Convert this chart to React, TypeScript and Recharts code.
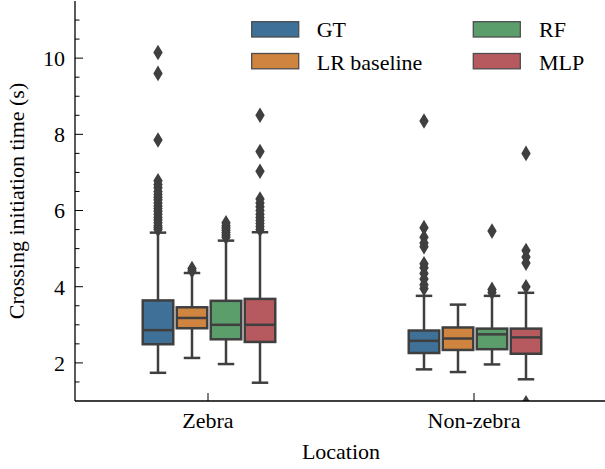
import React from 'react';
import { ComposedChart, Bar, XAxis, YAxis, Legend } from 'recharts';

const locations = ['Zebra', 'Non-zebra'];
const methods = ['GT', 'LR baseline', 'RF', 'MLP'];
const methodColors = ['#3E7098', '#CF8540', '#5B9E6C', '#B65A5F'];

// [lower whisker, Q1, median, Q3, upper whisker], one row per location (Zebra, Non-zebra)
const boxGT = [
  [1.74, 2.49, 2.86, 3.64, 5.42],
  [1.83, 2.26, 2.58, 2.85, 3.76],
];
const boxLR = [
  [2.13, 2.91, 3.18, 3.46, 4.36],
  [1.76, 2.34, 2.64, 2.93, 3.53],
];
const boxRF = [
  [1.97, 2.62, 3.0, 3.63, 5.21],
  [1.96, 2.36, 2.75, 2.9, 3.76],
];
const boxMLP = [
  [1.48, 2.55, 3.0, 3.68, 5.43],
  [1.57, 2.24, 2.67, 2.9, 3.84],
];

// outliers, one list per location (Zebra, Non-zebra)
const fliersGT = [
  [5.5, 5.55, 5.6, 5.68, 5.75, 5.82, 5.9, 5.98, 6.05, 6.12, 6.2, 6.28, 6.35, 6.42, 6.5, 6.6, 6.68, 6.78, 7.85, 9.6, 10.15],
  [3.95, 4.05, 4.2, 4.35, 4.5, 4.6, 5.05, 5.15, 5.3, 5.55, 8.35],
];
const fliersLR = [[4.42, 4.48], []];
const fliersRF = [
  [5.3, 5.36, 5.42, 5.48, 5.54, 5.6, 5.68],
  [3.85, 3.93, 5.46],
];
const fliersMLP = [
  [5.5, 5.58, 5.66, 5.74, 5.82, 5.9, 6.0, 6.1, 6.2, 6.3, 7.03, 7.55, 8.5],
  [0.95, 4.0, 4.62, 4.78, 4.95, 7.5],
];

const yDomain = [1, 11.5];
const yTicks = [1.5, 2, 2.5, 3, 3.5, 4, 4.5, 5, 5.5, 6, 6.5, 7, 7.5, 8, 8.5, 9, 9.5, 10, 10.5, 11];
const yMajorTicks = [2, 4, 6, 8, 10];

const allBoxes = [boxGT, boxLR, boxRF, boxMLP];
const allFliers = [fliersGT, fliersLR, fliersRF, fliersMLP];

const data = locations.map((loc, li) => {
  const row: any = { location: loc, stats: [], fliers: [] };
  methods.forEach((_, mi) => {
    const s = allBoxes[mi][li];
    row.stats.push(s);
    row.fliers.push(allFliers[mi][li]);
    row['box' + mi] = [s[1], s[3]];
  });
  return row;
});

const EDGE = '#3f3f3f';
const LW = 2.5;
const FONT = 22;

function makeBoxShape(mi: number) {
  return (props: any) => {
    const { x, y, width, height, payload } = props;
    if (!payload) return null;
    const [lo, q1, med, q3, hi] = payload.stats[mi];
    const fl: number[] = payload.fliers[mi];
    const top = Math.min(y, y + height);
    const h = Math.abs(height);
    const k = h / (q3 - q1);
    const py = (v: number) => top + h - (v - q1) * k;
    const cx = x + width / 2;
    const capHalf = width / 4;
    const bx = x + LW / 2;
    const bw = width - LW;
    return (
      <g>
        <line x1={cx} x2={cx} y1={py(q1)} y2={py(lo)} stroke={EDGE} strokeWidth={LW} />
        <line x1={cx} x2={cx} y1={py(q3)} y2={py(hi)} stroke={EDGE} strokeWidth={LW} />
        <rect x={bx} y={py(q3)} width={bw} height={py(q1) - py(q3)} fill={methodColors[mi]} stroke={EDGE} strokeWidth={LW} />
        <line x1={bx} x2={bx + bw} y1={py(med)} y2={py(med)} stroke={EDGE} strokeWidth={LW} />
        <line x1={cx - capHalf} x2={cx + capHalf} y1={py(lo)} y2={py(lo)} stroke={EDGE} strokeWidth={LW} />
        <line x1={cx - capHalf} x2={cx + capHalf} y1={py(hi)} y2={py(hi)} stroke={EDGE} strokeWidth={LW} />
        {fl.map((v, i) => {
          const fy = py(v);
          return (
            <polygon
              key={i}
              points={`${cx},${fy - 7.8} ${cx + 4.7},${fy} ${cx},${fy + 7.8} ${cx - 4.7},${fy}`}
              fill={EDGE}
            />
          );
        })}
      </g>
    );
  };
}

const LeftTick = (p: any) => {
  const { x, y, payload } = p;
  const axisX = x + 10;
  const major = yMajorTicks.includes(payload.value);
  return (
    <g>
      <line x1={axisX} x2={axisX + (major ? 8 : 4.5)} y1={y} y2={y} stroke="#000" strokeWidth={1} />
      {major && (
        <text x={x} y={y} dy="0.36em" textAnchor="end" fontSize={FONT} fill="#000">
          {payload.value}
        </text>
      )}
    </g>
  );
};

const RightTick = (p: any) => {
  const { x, y, payload } = p;
  const major = yMajorTicks.includes(payload.value);
  return <line x1={x} x2={x - (major ? 8 : 4.5)} y1={y} y2={y} stroke="#000" strokeWidth={1} />;
};

const BottomTick = (p: any) => {
  const { x, y, payload } = p;
  return (
    <g>
      <line x1={x} x2={x} y1={y} y2={y - 8} stroke="#000" strokeWidth={1} />
      <text x={x} y={y} dy={27.3} textAnchor="middle" fontSize={FONT} fill="#000">
        {payload.value}
      </text>
    </g>
  );
};

const TopTick = (p: any) => {
  const { x, y } = p;
  return <line x1={x} x2={x} y1={y} y2={y + 8} stroke="#000" strokeWidth={1} />;
};

const YLabel = (props: any) => {
  const vb = props.viewBox || { x: 0, y: 1, width: 75, height: 400 };
  const cx = vb.x + 23.5;
  const cy = vb.y + vb.height / 2;
  return (
    <text x={cx} y={cy} transform={`rotate(-90, ${cx}, ${cy})`} textAnchor="middle" fontSize={FONT} fill="#000">
      Crossing initiation time (s)
    </text>
  );
};

const renderLegend = () => (
  <svg width={340} height={72} style={{ display: 'block', overflow: 'visible' }}>
    {methods.map((m, i) => {
      const col = Math.floor(i / 2);
      const row = i % 2;
      const px = col === 0 ? 6.7 : 228.3;
      const tx = col === 0 ? 71.7 : 294;
      const pTop = row === 0 ? 11.7 : 43.5;
      const base = row === 0 ? 27.3 : 60;
      return (
        <g key={m}>
          <rect x={px} y={pTop} width={47} height={15.3} fill={methodColors[i]} stroke="#4d4d4d" strokeWidth={1.3} />
          <text x={tx} y={base} fontSize={FONT} fill="#000">
            {m}
          </text>
        </g>
      );
    })}
  </svg>
);

export default function App() {
  return (
    <div
      style={{
        position: 'absolute',
        left: 0,
        top: 0,
        width: 605,
        height: 469,
        overflow: 'hidden',
        background: '#fff',
        fontFamily: '"Liberation Serif", "Times New Roman", serif',
      }}
    >
      <ComposedChart
        width={620}
        height={469}
        data={data}
        margin={{ top: 1, right: 13, bottom: 0, left: 0 }}
        barCategoryGap="25%"
        barGap={1}
      >
        <XAxis
          dataKey="location"
          xAxisId={0}
          height={68}
          tickSize={0}
          tickMargin={0}
          tickLine={false}
          axisLine={{ stroke: '#000', strokeWidth: 1.3 }}
          tick={<BottomTick />}
          interval={0}
          label={{ value: 'Location', position: 'insideBottom', offset: 10, fontSize: FONT, fill: '#000' }}
        />
        <XAxis
          dataKey="location"
          xAxisId="top"
          orientation="top"
          height={0}
          tickSize={0}
          tickMargin={0}
          tickLine={false}
          axisLine={{ stroke: '#000', strokeWidth: 1.3 }}
          tick={<TopTick />}
          interval={0}
        />
        <YAxis
          yAxisId={0}
          type="number"
          domain={yDomain}
          ticks={yTicks}
          interval={0}
          allowDataOverflow
          width={75}
          tickSize={0}
          tickMargin={10}
          tickLine={false}
          axisLine={{ stroke: '#000', strokeWidth: 1.3 }}
          tick={<LeftTick />}
          label={(p: any) => <YLabel {...p} />}
        />
        <YAxis
          yAxisId="right"
          orientation="right"
          type="number"
          domain={yDomain}
          ticks={yTicks}
          interval={0}
          allowDataOverflow
          width={0}
          tickSize={0}
          tickMargin={0}
          tickLine={false}
          axisLine={{ stroke: '#000', strokeWidth: 1.3 }}
          tick={<RightTick />}
        />
        <Legend
          layout="vertical"
          verticalAlign="middle"
          align="center"
          wrapperStyle={{ left: 245, top: 10, width: 340, height: 72 }}
          content={renderLegend}
        />
        {methods.map((m, mi) => (
          <Bar
            key={m}
            name={m}
            dataKey={'box' + mi}
            xAxisId={0}
            yAxisId={0}
            fill={methodColors[mi]}
            shape={makeBoxShape(mi)}
            activeBar={false}
            isAnimationActive={false}
          />
        ))}
      </ComposedChart>
    </div>
  );
}
